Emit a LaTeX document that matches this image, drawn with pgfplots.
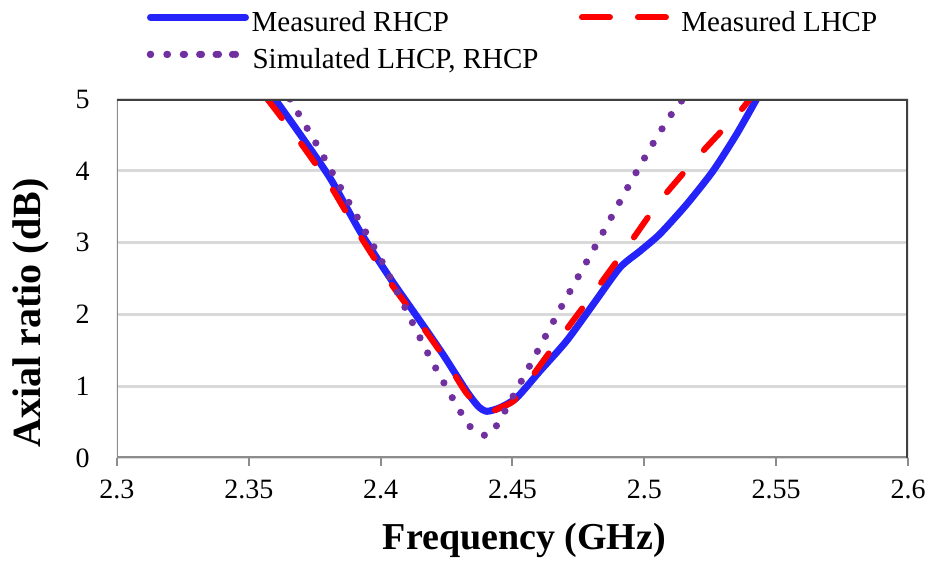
\documentclass[border=0pt]{standalone}
\usepackage{fontspec}
\setmainfont{Liberation Serif}
\usepackage{pgfplots}
\pgfplotsset{compat=1.18}
\definecolor{cblue}{RGB}{35,35,250}
\definecolor{cred}{RGB}{255,0,0}
\definecolor{cpurple}{RGB}{112,48,160}
\definecolor{cgrid}{RGB}{217,217,217}
\definecolor{caxl}{RGB}{140,140,140}
\definecolor{caxd}{RGB}{64,64,64}
\pgfplotsset{
  blueleg/.style={legend image code/.code={\draw[##1] (0pt,3.5pt) -- (47.5pt,3.5pt);}},
  redleg/.style={legend image code/.code={\path (-2pt,3.5pt) -- (45pt,3.5pt); \draw[##1] (0pt,3.5pt) -- (40pt,3.5pt);}},
  purpleg/.style={legend image code/.code={\path (0pt,3.5pt) -- (47.5pt,3.5pt); \draw[##1, dash pattern=on 0pt off 8.2pt] (0pt,3.5pt) -- (41.1pt,3.5pt);}},
}
\begin{document}
\begin{tikzpicture}
\useasboundingbox (-58.5pt,-51.5pt) rectangle (408pt,229pt);
\begin{axis}[
  scale only axis,
  width=395.5pt, height=179.5pt,
  xmin=2.3, xmax=2.6, ymin=0, ymax=5,
  xtick={2.3,2.35,...,2.61},
  xticklabels={2.3,2.35,2.4,2.45,2.5,2.55,2.6},
  ytick={0,1,2,3,4,5},
  ymajorgrids,
  grid style={cgrid, line width=1.4pt},
  axis line style={draw=none},
  tick align=outside,
  major tick length=4pt,
  xtick pos=lower,
  ytick pos=left,
  xtick style={caxl, line width=1pt},
  ytick style={draw=none},
  /pgf/number format/assume math mode=true,
  tick label style={font=\fontsize{14}{17}\selectfont},
  yticklabel style={anchor=east, inner sep=0pt, xshift=-9.5pt},
  xticklabel style={anchor=north, inner sep=0pt, yshift=-7pt},
  xlabel={Frequency (GHz)},
  xlabel style={font=\fontsize{19}{23}\selectfont\bfseries, at={(axis description cs:0.5,0)}, anchor=center, yshift=-41pt, xshift=6pt},
  ylabel={Axial ratio (dB)},
  ylabel style={font=\fontsize{20}{24}\selectfont\bfseries, at={([xshift=-43pt]axis description cs:0,0.404)}, anchor=center},
  legend columns=2,
  legend style={draw=none, fill=none, inner sep=0pt, at={(axis description cs:0,1)}, anchor=north west, xshift=14.75pt, yshift=44pt,
    font=\fontsize{14.5}{17}\selectfont,
    nodes={inner sep=0pt, text height=10pt, text depth=3pt},
    /tikz/every odd column/.append style={column sep=1.25pt},
    /tikz/every even column/.append style={column sep=65pt},
    row sep=5.5pt},
  legend cell align=left,
]
\addplot[cblue, line width=3.5pt, line cap=round, line join=round, smooth, tension=0.4, blueleg] coordinates {
(2.3599,5.0) (2.3694,4.51) (2.3808,3.90) (2.3921,3.16) (2.4035,2.51) (2.4149,1.91)
(2.4237,1.44) (2.4326,0.93) (2.4370,0.72) (2.4402,0.65) (2.4452,0.70) (2.4516,0.84)
(2.4604,1.21) (2.4705,1.63) (2.4806,2.14) (2.4907,2.65) (2.4983,2.88) (2.5059,3.12)
(2.5160,3.53) (2.5261,4.00) (2.5350,4.51) (2.5426,5.0)
};
\addlegendentry{Measured RHCP}
\addplot[cred, line width=3pt, line cap=round, dash pattern=on 12pt off 16pt, smooth, tension=0.4, redleg] coordinates {
(2.357,5.0) (2.3694,4.40) (2.3808,3.80) (2.3921,3.10) (2.4035,2.45) (2.4149,1.88)
(2.4237,1.42) (2.4326,0.90) (2.4402,0.64) (2.4452,0.70) (2.4503,0.79) (2.4553,1.03)
(2.4654,1.54) (2.4794,2.23) (2.4933,2.93) (2.5059,3.58) (2.5211,4.23) (2.5363,4.83) (2.540,5.0)
};
\addlegendentry{Measured LHCP}
\addplot[cpurple, line width=3.6pt, line cap=round, dash pattern=on 0pt off 8.5pt, smooth, tension=0.4, purpleg] coordinates {
(2.3656,5.0) (2.3694,4.76) (2.3757,4.37) (2.3820,3.95) (2.3884,3.53) (2.3947,3.12)
(2.4010,2.70) (2.4124,1.86) (2.4187,1.40) (2.4250,0.98) (2.4313,0.58) (2.4351,0.39)
(2.4408,0.31) (2.4446,0.49) (2.4541,1.12) (2.4636,1.77) (2.4698,2.19) (2.4825,3.02)
(2.4951,3.86) (2.5046,4.46) (2.5116,4.86) (2.5148,5.0)
};
\addlegendentry{\makebox[0pt][l]{Simulated LHCP, RHCP}}
\draw[caxl, line width=1.5pt] (rel axis cs:0,1) -- (rel axis cs:0,0) -- (rel axis cs:1,0);
\draw[caxd, line width=1.7pt] (rel axis cs:0,1) -- (rel axis cs:1,1) -- (rel axis cs:1,0);
\end{axis}
\end{tikzpicture}
\end{document}
